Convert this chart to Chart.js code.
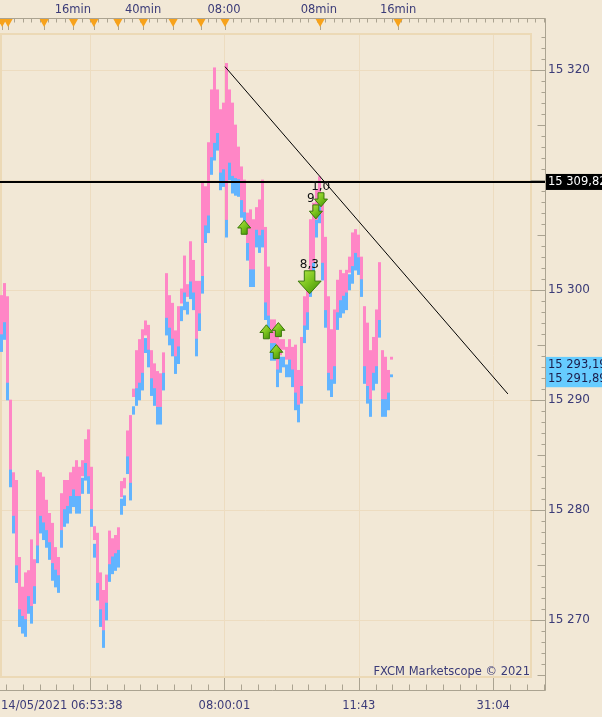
<!DOCTYPE html>
<html>
<head>
<meta charset="utf-8">
<script src="https://cdn.jsdelivr.net/npm/chart.js@4/dist/chart.umd.min.js"></script>
<style>
  html, body { margin: 0; padding: 0; background: #f2e8d6; }
  #wrap { width: 602px; height: 717px; }
</style>
</head>
<body>
<div id="wrap"><canvas id="chart" width="602" height="717"></canvas></div>
<script>
// tick bars, one per slot (high / low)
const barHigh = [
  15299.5, 15300.6, 15299.4, 15290.0, 15283.4, 15282.7, 15275.7, 15273.0, 15274.3, 15274.5,
  15277.3, 15275.5, 15283.6, 15283.4, 15283.0, 15280.9, 15279.7, 15278.8, 15276.6, 15275.7,
  15281.5, 15282.7, 15282.7, 15283.4, 15283.9, 15284.5, 15283.9, 15284.5, 15286.4, 15287.3,
  15283.9, 15278.5, 15277.9, 15274.3, 15272.7, 15274.1, 15278.1, 15277.4, 15277.7, 15278.4,
  15282.6, 15282.9, 15287.2, 15288.6, 15291.0, 15294.5, 15295.5, 15296.4, 15297.2, 15296.8,
  15294.5, 15293.3, 15292.6, 15292.4, 15294.3, 15301.5, 15299.5, 15298.8, 15296.3, 15298.5,
  15300.1, 15303.1, 15300.5, 15304.4, 15302.7, 15300.8, 15300.8, 15309.7, 15309.4, 15313.4,
  15318.2, 15320.2, 15318.2, 15316.4, 15317.0, 15320.6, 15318.2, 15317.0, 15315.0, 15313.0,
  15311.2, 15310.0, 15307.0, 15307.3, 15306.4, 15307.5, 15308.2, 15310.0, 15305.7, 15302.1,
  15297.3, 15297.3, 15295.7, 15295.5, 15295.5, 15294.8, 15295.5, 15294.8, 15295.0, 15292.7,
  15295.7, 15299.4, 15300.9, 15306.4, 15307.9, 15309.1, 15310.3, 15308.2, 15304.8, 15299.4,
  15296.4, 15298.2, 15300.9, 15301.8, 15301.5, 15301.8, 15303.0, 15305.2, 15305.5, 15305.0,
  15303.0, 15298.5, 15297.0, 15294.5, 15295.7, 15298.2, 15302.5, 15294.5, 15293.9, 15292.7,
  15293.9
];
const barLow = [
  15294.4, 15295.5, 15290.0, 15282.1, 15277.9, 15273.4, 15269.4, 15268.8, 15268.5, 15270.6,
  15269.7, 15271.5, 15275.2, 15277.9, 15277.3, 15276.6, 15275.5, 15273.6, 15273.0, 15272.5,
  15276.6, 15278.5, 15278.8, 15279.7, 15280.3, 15279.7, 15279.7, 15281.5, 15282.7, 15281.5,
  15278.5, 15275.7, 15271.8, 15269.4, 15267.5, 15270.0, 15273.5, 15274.2, 15274.5, 15274.8,
  15279.6, 15280.4, 15283.3, 15280.9, 15288.7, 15289.5, 15290.0, 15290.9, 15294.3, 15293.0,
  15290.4, 15289.5, 15287.8, 15287.8, 15290.9, 15295.9, 15295.0, 15294.0, 15292.4, 15293.3,
  15297.2, 15298.2, 15297.8, 15299.2, 15298.2, 15294.0, 15296.3, 15299.7, 15304.3, 15305.2,
  15310.5, 15311.8, 15312.7, 15309.1, 15309.4, 15304.8, 15310.0, 15308.8, 15308.6, 15308.5,
  15306.6, 15305.5, 15302.7, 15300.3, 15300.3, 15303.9, 15303.4, 15303.9, 15297.3, 15296.1,
  15293.6, 15293.6, 15291.2, 15292.5, 15293.0, 15292.1, 15292.1, 15291.2, 15289.1, 15288.0,
  15289.7, 15295.2, 15296.4, 15299.4, 15300.9, 15304.8, 15306.1, 15300.9, 15296.6, 15290.9,
  15290.3, 15291.5, 15296.4, 15297.5, 15297.9, 15298.2, 15300.0, 15300.6, 15301.8, 15301.4,
  15299.4, 15291.5, 15289.7, 15288.5, 15290.9, 15291.5, 15295.7, 15288.5, 15288.5, 15289.1,
  15292.1
];
const spread = 1.6; // bid/ask spread: blue (bid) sits lower than pink (ask)

const yTicks = [15270, 15280, 15290, 15300, 15310, 15320];
const yLabelled = [15270, 15280, 15290, 15300, 15320];
const xTicks = [30, 74.8, 119.6, 164.4];
const xTickLabels = ['14/05/2021 06:53:38', '08:00:01', '11:43', '31:04'];
const topMarks = [0.7, 2.7, 14.7, 24.5, 31.3, 39.3, 47.8, 57.7, 67, 75, 106.7, 132.7];
const topLabelAt = [24.3, 47.7, 74.7, 106.3, 132.7];
const topLabels = ['16min', '40min', '08:00', '08min', '16min'];

const levelPrice = 15309.82;
const trendFrom = { x: 75, y: 15320.3 };
const trendTo = { x: 169.3, y: 15290.55 };
const lastPrices = [15293.19, 15291.89];

const upArrows = [
  { x: 81.4, y: 15305.7 }, { x: 88.8, y: 15296.2 },
  { x: 92.8, y: 15296.4 }, { x: 92.1, y: 15294.4 }
];
const downArrows = [
  { x: 107.0, y: 15308.2, big: false }, { x: 105.3, y: 15307.1, big: false },
  { x: 103.2, y: 15300.7, big: true }
];
const signalTexts = [
  { x: 106.9, y: 15309.4, t: '1,0' },
  { x: 103.6, y: 15308.3, t: '9' },
  { x: 103.1, y: 15302.3, t: '8,3' }
];

const bg = '#f2e8d6';
const ink = '#3b3b78';
const rule = '#aba391';
const gridCol = '#eddcc0';
const font = '"DejaVu Sans", Verdana, sans-serif';

function fmtPrice(v, dec) {
  const s = v.toFixed(dec).split('.');
  const int = s[0].replace(/\B(?=(\d{3})+(?!\d))/g, ' ');
  return dec ? int + ',' + s[1] : int;
}

function drawArrow(ctx, cx, cy, w, h, dir) {
  // dir -1 = up, 1 = down
  const head = h * 0.55, sw = w * 0.46;
  const p = [
    [0, -h / 2], [w / 2, -h / 2 + head], [sw / 2, -h / 2 + head], [sw / 2, h / 2],
    [-sw / 2, h / 2], [-sw / 2, -h / 2 + head], [-w / 2, -h / 2 + head]
  ];
  const k = dir < 0 ? 1 : -1;
  ctx.beginPath();
  p.forEach(([px, py], i) => {
    const X = cx + px, Y = cy + py * k;
    i ? ctx.lineTo(X, Y) : ctx.moveTo(X, Y);
  });
  ctx.closePath();
  const g = ctx.createLinearGradient(cx - w / 2, cy - h / 2, cx + w / 2, cy + h / 2);
  g.addColorStop(0, '#b7e848');
  g.addColorStop(0.5, '#79c21c');
  g.addColorStop(1, '#3c8a06');
  ctx.fillStyle = g;
  ctx.fill();
  ctx.strokeStyle = '#3a780a';
  ctx.lineWidth = 1;
  ctx.stroke();
}

const chrome = {
  id: 'chrome',
  beforeDraw(chart) {
    const { ctx, width, height } = chart;
    ctx.save();
    ctx.fillStyle = bg;
    ctx.fillRect(0, 0, width, height);
    ctx.restore();
  },
  beforeDatasetsDraw(chart) {
    const { ctx, chartArea: a, scales: { x, y } } = chart;
    const frameRight = a.right - 14;
    ctx.save();
    ctx.strokeStyle = gridCol;
    ctx.lineWidth = 1;
    ctx.beginPath();
    yTicks.forEach(v => {
      const py = Math.round(y.getPixelForValue(v)) + 0.5;
      ctx.moveTo(0, py); ctx.lineTo(frameRight, py);
    });
    xTicks.forEach(v => {
      const px = Math.round(x.getPixelForValue(v)) + 0.5;
      ctx.moveTo(px, a.top); ctx.lineTo(px, a.bottom);
    });
    ctx.stroke();
    ctx.strokeStyle = '#ecd9b6';
    ctx.lineWidth = 2;
    ctx.strokeRect(1, a.top + 1, frameRight - 1, a.bottom - a.top - 2);
    ctx.restore();
  },
  afterDatasetsDraw(chart) {
    const { ctx, scales: { x, y } } = chart;
    ctx.save();
    upArrows.forEach(p => drawArrow(ctx, x.getPixelForValue(p.x), y.getPixelForValue(p.y), 13, 14, -1));
    downArrows.forEach(p => {
      const s = p.big ? 23 : 13;
      drawArrow(ctx, x.getPixelForValue(p.x), y.getPixelForValue(p.y), s, p.big ? 23 : 14, 1);
    });
    ctx.fillStyle = '#111';
    ctx.font = '12px ' + font;
    ctx.textAlign = 'center';
    ctx.textBaseline = 'middle';
    signalTexts.forEach(s => ctx.fillText(s.t, x.getPixelForValue(s.x), y.getPixelForValue(s.y)));
    ctx.restore();
  },
  afterDraw(chart) {
    const { ctx, chartArea: a, scales: { x, y } } = chart;
    const R = a.right + 0.5, topY = 18.5, botY = 690.5;
    ctx.save();
    ctx.strokeStyle = rule;
    ctx.lineWidth = 1;
    ctx.beginPath();
    ctx.moveTo(0, topY); ctx.lineTo(R, topY);
    ctx.moveTo(R, topY); ctx.lineTo(R, botY);
    ctx.moveTo(0, botY); ctx.lineTo(R, botY);

    // top ruler ticks
    const gap = xTicks[1] - xTicks[0];
    for (let v = xTicks[0] - gap; v <= x.max; v += gap / 16) {
      if (v < x.min) continue;
      const px = Math.round(x.getPixelForValue(v)) + 0.5;
      ctx.moveTo(px, topY); ctx.lineTo(px, topY + 4);
    }
    topMarks.forEach(v => {
      const px = Math.round(x.getPixelForValue(v)) + 0.5;
      ctx.moveTo(px, topY); ctx.lineTo(px, 30);
    });
    // bottom ruler ticks
    for (let v = xTicks[0] - gap; v <= x.max; v += gap / 8) {
      if (v < x.min) continue;
      const px = Math.round(x.getPixelForValue(v)) + 0.5;
      ctx.moveTo(px, botY); ctx.lineTo(px, botY - 6);
    }
    xTicks.forEach(v => {
      const px = Math.round(x.getPixelForValue(v)) + 0.5;
      ctx.moveTo(px, botY); ctx.lineTo(px, a.bottom);
    });
    // right axis ticks
    for (let v = Math.ceil(y.min); v <= Math.floor(y.max); v++) {
      const py = Math.round(y.getPixelForValue(v)) + 0.5;
      const len = v % 10 === 0 ? 15 : (v % 5 === 0 ? 8 : 4);
      ctx.moveTo(R - len, py); ctx.lineTo(R, py);
    }
    ctx.stroke();

    // orange markers on top ruler
    ctx.fillStyle = '#f7a21b';
    topMarks.forEach(v => {
      const px = x.getPixelForValue(v);
      ctx.beginPath();
      ctx.moveTo(px - 4.5, 19); ctx.lineTo(px + 4.5, 19); ctx.lineTo(px, 27);
      ctx.closePath(); ctx.fill();
    });

    ctx.fillStyle = ink;
    ctx.font = '11.5px ' + font;
    ctx.textBaseline = 'middle';
    ctx.textAlign = 'center';
    topLabels.forEach((t, i) => ctx.fillText(t, x.getPixelForValue(topLabelAt[i]), 10));

    ctx.textAlign = 'left';
    xTickLabels.forEach((t, i) => {
      const w = ctx.measureText(t).width;
      // the first (dated) label is pinned to the left edge
      const left = i === 0 ? 1 : x.getPixelForValue(xTicks[i]) - w / 2;
      ctx.fillText(t, left, 706);
    });

    ctx.textAlign = 'right';
    ctx.fillText('FXCM Marketscope \u00a9 2021', a.right - 15, 672);

    ctx.textAlign = 'left';
    ctx.font = '12px ' + font;
    yLabelled.forEach(v => ctx.fillText(fmtPrice(v, 0), a.right + 3, y.getPixelForValue(v)));

    ctx.font = '11.5px ' + font;
    // level label
    const ly = y.getPixelForValue(levelPrice);
    ctx.fillStyle = '#000';
    ctx.fillRect(a.right + 1, ly - 8, 60, 16);
    ctx.fillStyle = '#fff';
    ctx.fillText(fmtPrice(levelPrice, 2), a.right + 3, ly);

    // last bid/ask labels
    const p0 = y.getPixelForValue(lastPrices[0]), p1 = y.getPixelForValue(lastPrices[1]);
    ctx.fillStyle = '#66ccff';
    ctx.fillRect(a.right + 1, p0 - 8, 60, p1 - p0 + 16);
    ctx.fillStyle = '#1c1c4a';
    ctx.fillText(fmtPrice(lastPrices[0], 2), a.right + 3, p0);
    ctx.fillText(fmtPrice(lastPrices[1], 2), a.right + 3, p1);
    ctx.restore();
  }
};

const askBars = barHigh.map((h, i) => ({ x: i + 0.5, y: [barLow[i] + spread, h] }));
const bidBars = barHigh.map((h, i) => ({ x: i + 0.5, y: [barLow[i], h - spread] }));

new Chart(document.getElementById('chart'), {
  type: 'bar',
  data: {
    datasets: [
      {
        type: 'line', data: [{ x: 0, y: levelPrice }, { x: 181.67, y: levelPrice }],
        borderColor: '#000', borderWidth: 2, pointRadius: 0, order: 0
      },
      {
        type: 'line', data: [trendFrom, trendTo],
        borderColor: '#000', borderWidth: 1, pointRadius: 0, order: 1
      },
      { data: askBars, backgroundColor: '#ff86c6', barThickness: 2.3, grouped: false, order: 2 },
      { data: bidBars, backgroundColor: '#62b4ff', barThickness: 2.3, grouped: false, order: 3 }
    ]
  },
  options: {
    responsive: false,
    animation: false,
    events: [],
    layout: { padding: { top: 33, bottom: 39, left: 0, right: 57 } },
    plugins: { legend: { display: false }, tooltip: { enabled: false } },
    scales: {
      x: { type: 'linear', min: 0, max: 181.67, offset: false, display: false },
      y: { type: 'linear', min: 15264.73, max: 15323.36, display: false }
    }
  },
  plugins: [chrome]
});
</script>
</body>
</html>
